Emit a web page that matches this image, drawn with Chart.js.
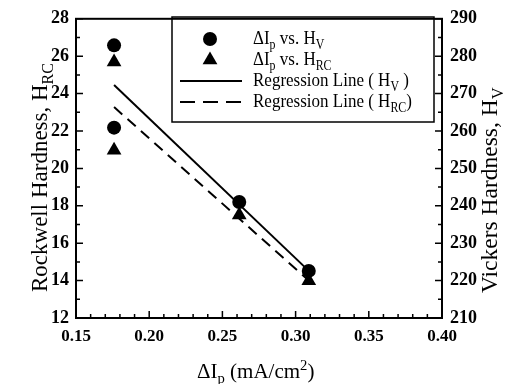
<!DOCTYPE html>
<html>
<head>
<meta charset="utf-8">
<script src="https://cdn.jsdelivr.net/npm/chart.js@4.4.0/dist/chart.umd.min.js"></script>
<style>
  html, body { margin: 0; padding: 0; background: #fff; }
  #wrap { width: 516px; height: 384px; }
</style>
</head>
<body>
<div id="wrap"><canvas id="chart"></canvas></div>
<script>
// data
const deltaIp = [0.176, 0.176, 0.2615, 0.309];
const hvValues = [282.9, 260.9, 241.0, 222.6];
const hrcValues = [25.69, 20.97, 17.51, 13.99];

// regression line end points
const lineX = [0.176, 0.309];
const hvLine = [272.3, 222.6];
const hrcLine = [23.28, 14.0];

// tick labels
const xTicks = [0.15, 0.20, 0.25, 0.30, 0.35, 0.40];
const hrcTicks = [12, 14, 16, 18, 20, 22, 24, 26, 28];
const hvTicks = [210, 220, 230, 240, 250, 260, 270, 280, 290];

const serif = "'Liberation Serif', 'Times New Roman', serif";

function pts(xs, ys) {
  return xs.map((x, i) => ({ x: x, y: ys[i] }));
}

// draw text with sub/superscripts, parts = [[text, kind]]
function drawRich(ctx, parts, x, y, size) {
  let cx = x;
  parts.forEach(([t, kind]) => {
    let s = size, dy = 0;
    if (kind == "sub") { s = size * 0.7; dy = size * 0.25; }
    if (kind == "sup") { s = size * 0.7; dy = -size * 0.4; }
    ctx.font = s + "px " + serif;
    ctx.fillText(t, cx, y + dy);
    cx += ctx.measureText(t).width;
  });
}

// same, but a bit taller (the scan is stretched vertically)
function drawTall(ctx, parts, x, y, size, k) {
  ctx.save();
  ctx.translate(x, y);
  ctx.scale(1, k);
  drawRich(ctx, parts, 0, 0, size);
  ctx.restore();
}

const framePlugin = {
  id: "frame",
  afterDraw(chart) {
    const ctx = chart.ctx;
    const a = chart.chartArea;
    const sx = chart.scales.x, sy = chart.scales.y, sy2 = chart.scales.y2;
    ctx.save();
    ctx.strokeStyle = "#000";
    ctx.fillStyle = "#000";

    // axes frame
    ctx.lineWidth = 2;
    ctx.strokeRect(a.left, a.top, a.right - a.left, a.bottom - a.top);

    // inside ticks
    ctx.lineWidth = 1.5;
    ctx.beginPath();
    for (let i = 0; i <= 25; i++) {
      const v = 0.15 + i * 0.01;
      const px = sx.getPixelForValue(v);
      const len = i % 5 == 0 ? 7 : 4;
      ctx.moveTo(px, a.bottom);
      ctx.lineTo(px, a.bottom - len);
    }
    for (let v = 12; v <= 28; v++) {
      const py = sy.getPixelForValue(v);
      const len = v % 2 == 0 ? 7 : 4;
      ctx.moveTo(a.left, py);
      ctx.lineTo(a.left + len, py);
    }
    for (let v = 210; v <= 290; v += 5) {
      const py = sy2.getPixelForValue(v);
      const len = v % 10 == 0 ? 7 : 4;
      ctx.moveTo(a.right, py);
      ctx.lineTo(a.right - len, py);
    }
    ctx.stroke();

    // legend
    ctx.lineWidth = 1.5;
    ctx.strokeRect(172, 17, 262, 105);
    ctx.beginPath();
    ctx.arc(210, 39, 7, 0, Math.PI * 2);
    ctx.fill();
    ctx.beginPath();
    ctx.moveTo(210, 60 - 8.5);
    ctx.lineTo(210 + 7.4, 60 + 4.25);
    ctx.lineTo(210 - 7.4, 60 + 4.25);
    ctx.closePath();
    ctx.fill();
    ctx.lineWidth = 2;
    ctx.beginPath();
    ctx.moveTo(180, 81);
    ctx.lineTo(242, 81);
    ctx.stroke();
    ctx.setLineDash([15, 8]);
    ctx.beginPath();
    ctx.moveTo(180, 102);
    ctx.lineTo(241, 102);
    ctx.stroke();
    ctx.setLineDash([]);

    ctx.textAlign = "left";
    ctx.textBaseline = "alphabetic";
    const ls = 17, k = 1.15;
    drawTall(ctx, [["ΔI", ""], ["p", "sub"], [" vs. H", ""], ["V", "sub"]], 253, 44, ls, k);
    drawTall(ctx, [["ΔI", ""], ["p", "sub"], [" vs. H", ""], ["RC", "sub"]], 253, 65, ls, k);
    drawTall(ctx, [["Regression Line ( H", ""], ["V", "sub"], [" )", ""]], 253, 86, ls, k);
    drawTall(ctx, [["Regression Line ( H", ""], ["RC", "sub"], [")", ""]], 253, 107, ls, k);

    // axis titles
    drawRich(ctx, [["ΔI", ""], ["p", "sub"], [" (mA/cm", ""], ["2", "sup"], [")", ""]], 197, 378, 21);

    ctx.save();
    ctx.translate(47, 292);
    ctx.rotate(-Math.PI / 2);
    drawRich(ctx, [["Rockwell Hardness, H", ""], ["RC", "sub"]], 0, 0, 23);
    ctx.restore();

    ctx.save();
    ctx.translate(497, 293);
    ctx.rotate(-Math.PI / 2);
    drawRich(ctx, [["Vickers Hardness, H", ""], ["V", "sub"]], 0, 0, 23.5);
    ctx.restore();

    ctx.restore();
  }
};

function fixedTicks(list) {
  return (scale) => {
    scale.ticks = list.map((v) => ({ value: v }));
  };
}

new Chart(document.getElementById("chart"), {
  type: "scatter",
  data: {
    datasets: [
      {
        label: "Regression Line (HV)",
        data: pts(lineX, hvLine),
        yAxisID: "y2",
        showLine: true,
        borderColor: "#000",
        borderWidth: 2,
        pointRadius: 0,
      },
      {
        label: "Regression Line (HRC)",
        data: pts(lineX, hrcLine),
        yAxisID: "y",
        showLine: true,
        borderColor: "#000",
        borderWidth: 2,
        borderDash: [11, 7],
        pointRadius: 0,
      },
      {
        label: "dIp vs. HV",
        data: pts(deltaIp, hvValues),
        yAxisID: "y2",
        pointStyle: "circle",
        pointRadius: 7,
        backgroundColor: "#000",
        borderColor: "#000",
        borderWidth: 0,
      },
      {
        label: "dIp vs. HRC",
        data: pts(deltaIp, hrcValues),
        yAxisID: "y",
        pointStyle: "triangle",
        pointRadius: 8.5,
        backgroundColor: "#000",
        borderColor: "#000",
        borderWidth: 0,
      },
    ],
  },
  options: {
    responsive: true,
    maintainAspectRatio: false,
    animation: false,
    layout: { padding: { top: 13, left: 0, right: 0, bottom: 0 } },
    plugins: {
      legend: { display: false },
      tooltip: { enabled: false },
    },
    scales: {
      x: {
        type: "linear",
        min: 0.15,
        max: 0.4,
        afterBuildTicks: fixedTicks(xTicks),
        afterFit: (s) => { s.height = 66; },
        grid: { display: false, drawTicks: false },
        border: { display: false },
        ticks: {
          padding: 8,
          color: "#000",
          font: { family: serif, size: 17, weight: "bold" },
          callback: (v) => v.toFixed(2),
          maxRotation: 0,
        },
      },
      y: {
        position: "left",
        min: 12,
        max: 28,
        afterBuildTicks: fixedTicks(hrcTicks),
        afterFit: (s) => { s.width = 76; },
        grid: { display: false, drawTicks: false },
        border: { display: false },
        ticks: {
          padding: 7,
          color: "#000",
          font: { family: serif, size: 18, weight: "bold" },
        },
      },
      y2: {
        position: "right",
        min: 210,
        max: 290,
        afterBuildTicks: fixedTicks(hvTicks),
        afterFit: (s) => { s.width = 74; },
        grid: { display: false, drawTicks: false },
        border: { display: false },
        ticks: {
          padding: 8,
          color: "#000",
          font: { family: serif, size: 18, weight: "bold" },
        },
      },
    },
  },
  plugins: [framePlugin],
});
</script>
</body>
</html>
